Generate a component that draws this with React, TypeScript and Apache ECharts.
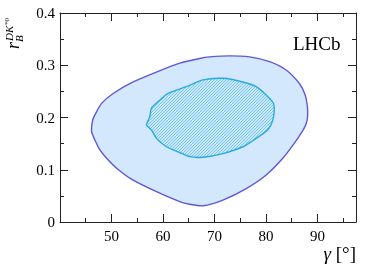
import React, { useEffect, useRef } from 'react';
import * as echarts from 'echarts';

const xTickLabels = [50, 60, 70, 80, 90];
const yTickLabels = [0, 0.1, 0.2, 0.3, 0.4];

const outerGamma = [46.14, 46.34, 46.78, 48.08, 50.33, 54.21, 58.74, 63.26, 67.13, 69.07, 72.95, 76.82, 80.7, 83.93, 86.51, 87.6, 88.05, 88.1, 87.75, 87.1, 85.54, 83.28, 80.06, 76.18, 71.65, 67.77, 65.19, 63.26, 58.74, 54.21, 50.99, 49.05, 47.75, 46.78];
const outerRb = [0.173, 0.195, 0.205, 0.227, 0.246, 0.268, 0.287, 0.304, 0.313, 0.316, 0.318, 0.316, 0.307, 0.291, 0.265, 0.244, 0.222, 0.202, 0.186, 0.174, 0.151, 0.122, 0.09, 0.064, 0.042, 0.031, 0.034, 0.039, 0.058, 0.08, 0.103, 0.122, 0.138, 0.157];

const innerGamma = [56.8, 57.44, 57.77, 59.38, 60.99, 64.55, 67.77, 71.65, 75.52, 78.12, 80.06, 81.47, 81.47, 80.5, 78.12, 75.52, 71.65, 67.77, 65.19, 63.26, 60.68, 58.74, 57.77];
const innerRb = [0.186, 0.201, 0.218, 0.233, 0.246, 0.259, 0.272, 0.275, 0.268, 0.259, 0.243, 0.227, 0.201, 0.178, 0.16, 0.144, 0.131, 0.124, 0.125, 0.133, 0.144, 0.16, 0.176];

const SERIF = '"Liberation Serif", "DejaVu Serif", serif';
const AXIS_COLOR = '#222';

function makeHatch(): any {
  const c = document.createElement('canvas');
  c.width = 3;
  c.height = 3;
  const ctx = c.getContext('2d')!;
  ctx.fillStyle = '#cbe8fb';
  ctx.fillRect(0, 0, 3, 3);
  ctx.fillStyle = '#78c5ee';
  for (let i = 0; i < 3; i++) ctx.fillRect(i, 2 - i, 1, 1);
  return { image: c.toDataURL(), repeat: 'repeat', imageWidth: 3, imageHeight: 3 };
}

export default function App() {
  const ref = useRef<HTMLDivElement>(null);
  useEffect(() => {
    if (!ref.current) return;
    const chart = echarts.init(ref.current, null, { renderer: 'svg' });
    const hatch = makeHatch();

    const xBase = (pos: 'bottom' | 'top', interval: number, len: number, labels: boolean, line: boolean) => ({
      type: 'value',
      gridIndex: 0,
      position: pos,
      min: 40,
      max: 97.5,
      interval,
      splitLine: { show: false },
      axisLine: { show: line, onZero: false, lineStyle: { color: AXIS_COLOR, width: 1 } },
      axisTick: { show: true, inside: true, length: len, lineStyle: { color: AXIS_COLOR, width: 1 } },
      axisLabel: {
        show: labels,
        showMaxLabel: false,
        showMinLabel: false,
        margin: 6,
        color: '#000',
        fontFamily: SERIF,
        fontSize: 15,
        formatter: (v: number) => (xTickLabels.includes(v) ? String(v) : ''),
      },
    });

    const yBase = (pos: 'left' | 'right', labels: boolean) => ({
      type: 'value',
      gridIndex: 0,
      position: pos,
      min: 0,
      max: 0.4,
      interval: 0.1,
      splitLine: { show: false },
      axisLine: { show: true, onZero: false, lineStyle: { color: AXIS_COLOR, width: 1 } },
      axisTick: { show: true, inside: true, length: 8, lineStyle: { color: AXIS_COLOR, width: 1 } },
      minorTick: { show: true, splitNumber: 2, length: 4, lineStyle: { color: AXIS_COLOR, width: 1 } },
      axisLabel: {
        show: labels,
        margin: 5,
        color: '#000',
        fontFamily: SERIF,
        fontSize: 15,
        formatter: (v: number) => {
          const m = yTickLabels.find((t) => Math.abs(t - v) < 1e-9);
          if (m === undefined) return '';
          return m === 0 ? '0' : m.toFixed(1);
        },
      },
    });

    const polySeries = (gs: number[], rs: number[], style: any, z: number) => ({
      type: 'custom',
      coordinateSystem: 'cartesian2d',
      xAxisIndex: 0,
      yAxisIndex: 0,
      silent: true,
      z,
      data: gs.map((g, i) => [g, rs[i]]),
      renderItem: (params: any, api: any) => {
        if (params.dataIndex !== 0) return null;
        const points = gs.map((g, i) => api.coord([g, rs[i]]));
        return { type: 'polygon', shape: { points, smooth: 0.25 }, style };
      },
    });

    chart.setOption({
      animation: false,
      grid: { left: 60, right: 18, top: 13, bottom: 46, containLabel: false },
      xAxis: [
        xBase('bottom', 10, 8, true, true),
        xBase('bottom', 5, 4, false, false),
        xBase('top', 10, 8, false, true),
        xBase('top', 5, 4, false, false),
      ],
      yAxis: [yBase('left', true), yBase('right', false)],
      series: [
        polySeries(outerGamma, outerRb, { fill: '#d3e7fd', stroke: '#5e58d8', lineWidth: 1.4 }, 2),
        polySeries(innerGamma, innerRb, { fill: hatch, stroke: '#27ace2', lineWidth: 1.4 }, 3),
      ],
      graphic: [
        {
          type: 'text',
          x: 293,
          y: 43,
          z: 10,
          style: { text: 'LHCb', font: `19px ${SERIF}`, fill: '#000', textAlign: 'left', textVerticalAlign: 'middle' },
        },
        {
          type: 'text',
          x: 356,
          y: 253,
          z: 10,
          style: {
            text: '{i|γ} [°]',
            font: `19px ${SERIF}`,
            fill: '#000',
            textAlign: 'right',
            textVerticalAlign: 'middle',
            rich: { i: { fontStyle: 'italic', fontFamily: SERIF, fontSize: 19 } },
          },
        },
        {
          type: 'group',
          x: 22,
          y: 49,
          rotation: Math.PI / 2,
          z: 10,
          children: [
            { type: 'text', x: 0, y: 0, style: { text: 'r', font: `italic 18px ${SERIF}`, fill: '#000', textVerticalAlign: 'bottom' } },
            { type: 'text', x: 7, y: 2, style: { text: 'B', font: `italic 11px ${SERIF}`, fill: '#000', textVerticalAlign: 'bottom' } },
            { type: 'text', x: 8, y: -8, style: { text: 'DK', font: `italic 11px ${SERIF}`, fill: '#000', textVerticalAlign: 'bottom' } },
            { type: 'text', x: 24, y: -12, style: { text: '*0', font: `7px ${SERIF}`, fill: '#000', textVerticalAlign: 'bottom' } },
          ],
        },
      ],
    });
    return () => chart.dispose();
  }, []);
  return <div ref={ref} style={{ position: 'fixed', left: 0, top: 0, width: 374, height: 268 }} />;
}
